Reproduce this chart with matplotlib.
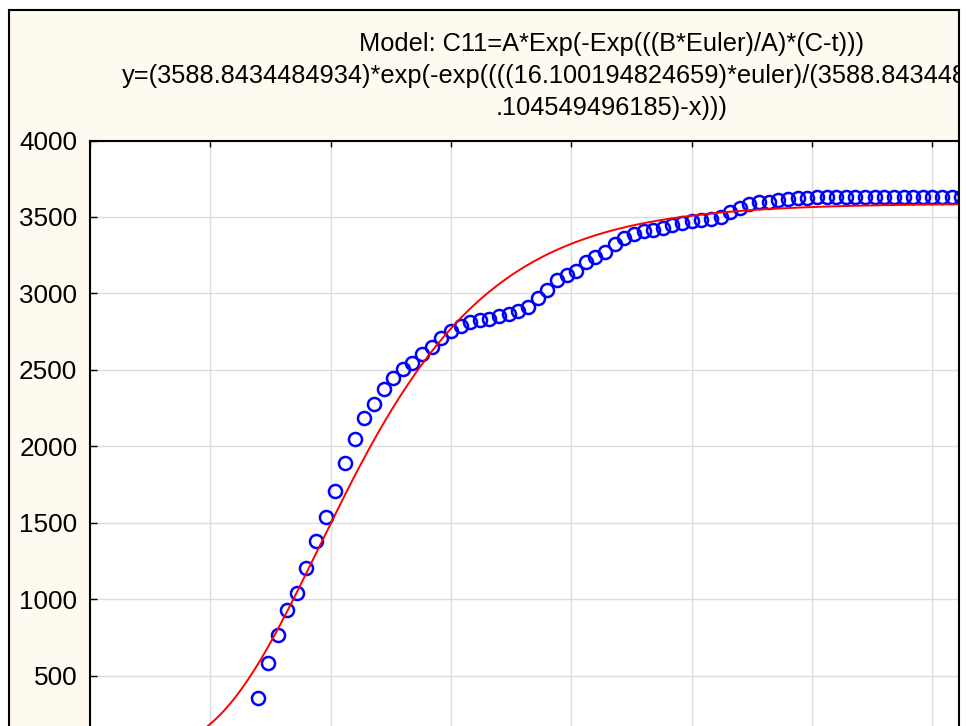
import numpy as np
import matplotlib
matplotlib.use('Agg')
import matplotlib.pyplot as plt
from matplotlib.patches import Rectangle
from matplotlib.lines import Line2D

plt.rcParams['font.family'] = ['Liberation Sans', 'DejaVu Sans']

# fitted Gompertz parameters (from the model text)
A = 3588.8434484934
B = 16.100194824659
C = 189.104549496185

# observed values, one every 8 units starting at t=140
t_obs = np.arange(140, 732, 8)
y_obs = [353, 587, 770, 929, 1045, 1203, 1384, 1536, 1706, 1889,
         2051, 2186, 2279, 2375, 2445, 2507, 2547, 2602, 2653, 2711,
         2757, 2785, 2812, 2824, 2836, 2854, 2868, 2887, 2911, 2968,
         3023, 3085, 3123, 3147, 3204, 3240, 3271, 3325, 3364, 3392,
         3407, 3418, 3430, 3446, 3458, 3477, 3480, 3487, 3500, 3535,
         3557, 3584, 3597, 3601, 3608, 3620, 3623, 3627, 3628, 3628,
         3629, 3629, 3629, 3630, 3630, 3630, 3630, 3630, 3630, 3630,
         3630, 3630, 3630, 3630]

# the 0 tick sits below the cropped edge, so only 500..4000 are shown
y_ticks = [500, 1000, 1500, 2000, 2500, 3000, 3500, 4000]
x_ticks = [0, 100, 200, 300, 400, 500, 600, 700, 800]

title_lines = [
    "Model: C11=A*Exp(-Exp(((B*Euler)/A)*(C-t)))",
    "y=(3588.8434484934)*exp(-exp((((16.100194824659)*euler)/(3588.8434484934))*(189",
    ".104549496185)-x)))",
]

W, H = 966, 726
fig = plt.figure(figsize=(W / 100, H / 100), dpi=100, facecolor='white')

# cream panel behind everything
fig.add_artist(Rectangle((9 / W, -0.1), (959 - 9) / W, 1.1 - 10 / H,
                         transform=fig.transFigure, facecolor='#fffaf0',
                         edgecolor='none', zorder=-5))

# plot area, extends past the right and bottom edge (cropped picture)
px_per_unit = 1.2038
ax_left = 89.8
ax_top = 140.5
ax_bottom = 752.4
ax = fig.add_axes([ax_left / W, (H - ax_bottom) / H,
                   800 * px_per_unit / W, (ax_bottom - ax_top) / H])
ax.set_facecolor('white')
ax.set_xlim(0, 800)
ax.set_ylim(0, 4000)
ax.set_xticks(x_ticks)
ax.set_yticks(y_ticks)
ax.xaxis.tick_top()
ax.tick_params(axis='x', direction='in', length=4, width=1, labeltop=False, labelbottom=False)
ax.tick_params(axis='y', direction='in', length=5, width=1, labelsize=18.8, pad=9)
ax.grid(True, color='#dcdcdc', lw=1)
ax.axhline(0, color='#dcdcdc', lw=1)
ax.set_axisbelow(True)
for s in ax.spines.values():
    s.set_linewidth(1.5)
    s.set_color('black')

ax.plot(t_obs, y_obs, 'o', mfc='none', mec='#0000ff', ms=9.4, mew=1.8, zorder=2)

t_fit = np.linspace(0, 800, 800)
y_fit = A * np.exp(-np.exp(((B * np.e) / A) * (C - t_fit)))
ax.plot(t_fit, y_fit, color='#ff0000', lw=1.4, zorder=3)

# model text
for i, line in enumerate(title_lines):
    fig.text(612 / W, 1 - (44 + 32 * i) / H, line, ha='center', va='center',
             fontsize=18.3, zorder=5)

# white strip right of the frame and the black frame itself
fig.add_artist(Rectangle((960 / W, -0.1), 0.1, 1.2, transform=fig.transFigure,
                         facecolor='white', edgecolor='none', zorder=10))
fig.add_artist(Rectangle((0, 1 - 9 / H), 1, 0.1, transform=fig.transFigure,
                         facecolor='white', edgecolor='none', zorder=10))
frame = dict(transform=fig.transFigure, color='black', lw=1.5, zorder=11)
fig.add_artist(Line2D([9 / W, 9 / W], [-0.1, 1 - 10 / H], **frame))
fig.add_artist(Line2D([9 / W, 959 / W], [1 - 10 / H, 1 - 10 / H], **frame))
fig.add_artist(Line2D([959 / W, 959 / W], [-0.1, 1 - 10 / H], **frame))

fig.savefig('out.png', dpi=100)
